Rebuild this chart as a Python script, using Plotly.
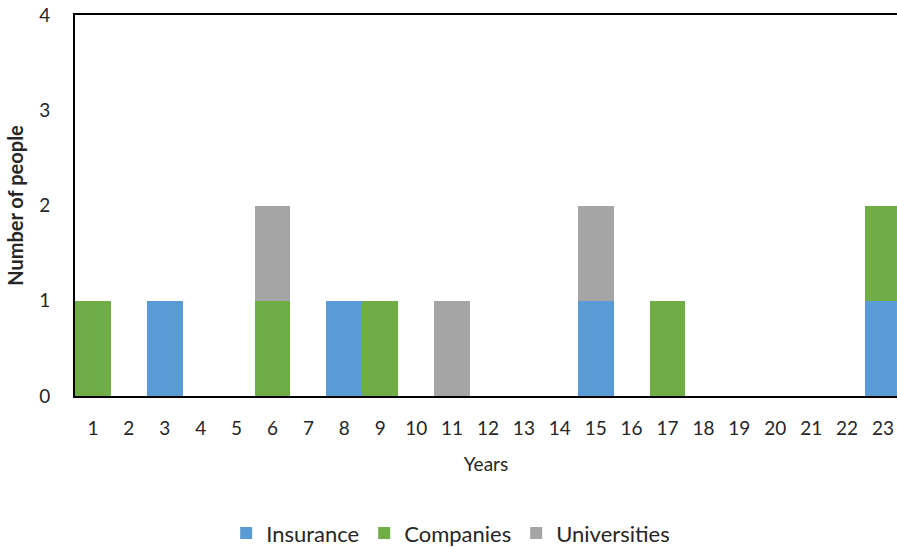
import plotly.graph_objects as go

years = [str(i) for i in range(1, 24)]
insurance = [0, 0, 1, 0, 0, 0, 0, 1, 0, 0, 0, 0, 0, 0, 1, 0, 0, 0, 0, 0, 0, 0, 1]
companies = [1, 0, 0, 0, 0, 1, 0, 0, 1, 0, 0, 0, 0, 0, 0, 0, 1, 0, 0, 0, 0, 0, 1]
universities = [0, 0, 0, 0, 0, 1, 0, 0, 0, 0, 1, 0, 0, 0, 1, 0, 0, 0, 0, 0, 0, 0, 0]

xs = list(range(1, 24))
fig = go.Figure()
fig.add_bar(x=xs, y=insurance, name="Insurance", marker_color="#5B9BD5", marker_line_width=0)
fig.add_bar(x=xs, y=companies, name="Companies", marker_color="#70AD47", marker_line_width=0)
fig.add_bar(x=xs, y=universities, name="Universities", marker_color="#A5A5A5", marker_line_width=0)

font_family = "Lato, Open Sans, sans-serif"
fig.update_layout(
    barmode="stack",
    bargap=0,
    width=897, height=547,
    margin=dict(l=75, r=0, t=15, b=151, autoexpand=False),
    plot_bgcolor="white", paper_bgcolor="white",
    font=dict(family=font_family, size=19, color="#262626"),
    showlegend=True,
    legend=dict(orientation="h", x=0.457, xanchor="center", y=-0.36, yanchor="middle",
                font=dict(size=22), itemwidth=30, traceorder="normal"),
    xaxis=dict(range=[0.5, 23.39], tickmode="array", tickvals=xs, ticktext=years,
               showline=True, linecolor="black", linewidth=2, mirror=True,
               ticks="outside", ticklen=14, tickcolor="rgba(0,0,0,0)",
               showgrid=False, zeroline=False,
               title=dict(text="Years", font=dict(size=19), standoff=20)),
    yaxis=dict(range=[0, 4], dtick=1, showline=True, linecolor="black", linewidth=2,
               ticks="outside", ticklen=19, tickcolor="rgba(0,0,0,0)",
               showgrid=False, zeroline=False,
               title=dict(text="<b>Number of people</b>", font=dict(size=20), standoff=10)),
)
fig.write_html("out.html")
